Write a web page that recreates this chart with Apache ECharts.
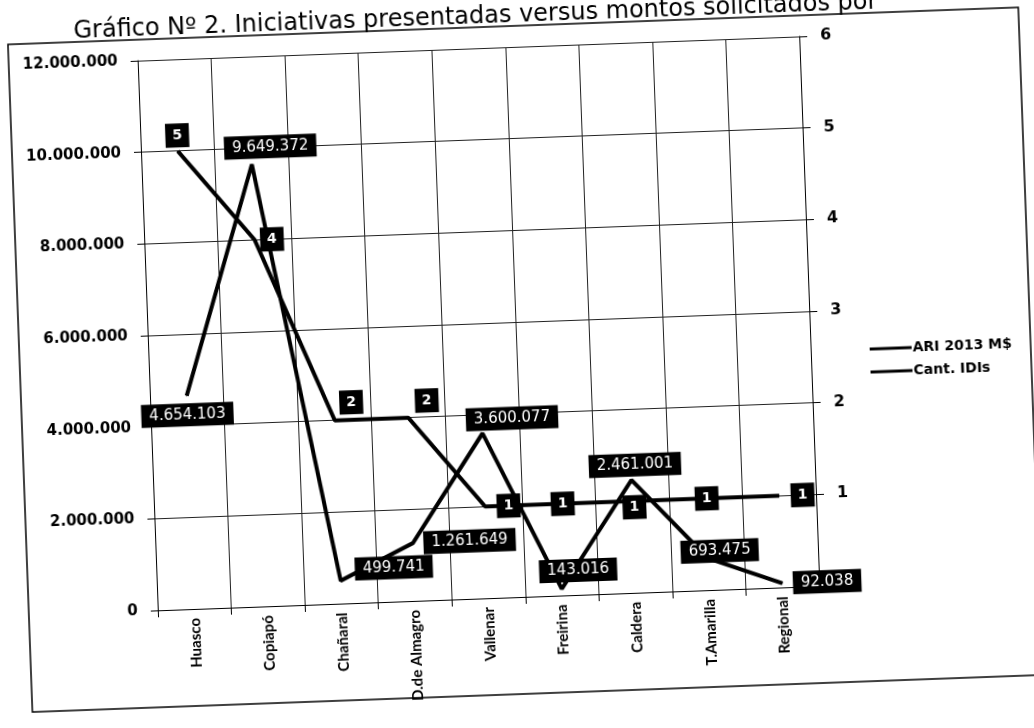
<!DOCTYPE html>
<html>
<head>
<meta charset="utf-8">
<script src="https://cdn.jsdelivr.net/npm/echarts@6/dist/echarts.min.js"></script>
<style>
html,body{margin:0;padding:0;background:#fff;overflow:hidden;}
#chart{width:1034px;height:728px;transform:rotate(-2.1deg);transform-origin:50% 50%;}
</style>
</head>
<body>
<div id="chart"></div>
<script>
// ---- data ----
const titleText = 'Gráfico Nº 2. Iniciativas presentadas versus montos solicitados por';
const categories = ['Huasco', 'Copiapó', 'Chañaral', 'D.de Almagro', 'Vallenar', 'Freirina', 'Caldera', 'T.Amarilla', 'Regional'];
const seriesNames = ['ARI 2013 M$', 'Cant. IDIs'];
const ariValues = [4654103, 9649372, 499741, 1261649, 3600077, 143016, 2461001, 693475, 92038];
const idiValues = [5, 4, 2, 2, 1, 1, 1, 1, 1];
const leftAxisMax = 12000000;
const leftAxisStep = 2000000;
const rightAxisMax = 6;
const rightAxisStep = 1;

// ---- label placement (style only) ----
const ariLabelPos = ['bottom', 'top', 'right', 'right', 'top', 'top', 'top', 'inside', 'right'];
const ariLabelDist = [7, 5, 10, 10, 2, 6, 3, 0, 10];
const ariLabelShift = [[0, 0], [19, 0], [4, -11], [0, 0], [30, 0], [17, 0], [4, 0], [12, -7], [0, 0]];
const idiLabelPos = ['top', 'right', 'top', 'top', 'right', 'inside', 'inside', 'inside', 'right'];
const idiLabelDist = [3, 5, 5, 4, 10, 0, 0, 0, 10];
const idiLabelShift = [[0, 0], [0, 0], [17, 0], [19, 0], [1, 0], [4, 0], [2, 6], [1, 0], [1, 0]];

function fmt(v) {
  return String(v).replace(/\B(?=(\d{3})+(?!\d))/g, '.');
}

function shiftLayout(shifts) {
  return function (params) {
    const s = shifts[params.dataIndex] || [0, 0];
    return {dx: s[0], dy: s[1], hideOverlap: false};
  };
}

const boxLabel = {
  show: true,
  color: '#fff',
  backgroundColor: '#000',
  fontFamily: 'DejaVu Sans',
  fontSize: 15,
  lineHeight: 17,
  padding: [3, 8, 3, 8]
};

const chart = echarts.init(document.getElementById('chart'), null, {renderer: 'canvas'});
chart.setOption({
  backgroundColor: '#ffffff',
  animation: false,
  graphic: [
    {
      type: 'rect',
      shape: {x: 20, y: 26, width: 1011, height: 668},
      style: {fill: 'none', stroke: '#000', lineWidth: 1.5},
      z: -1
    },
    {
      type: 'text',
      left: 86,
      top: 4,
      style: {text: titleText, fill: '#000', font: '24px "DejaVu Sans"'}
    }
  ],
  legend: {
    data: seriesNames,
    orient: 'vertical',
    left: 865,
    top: 350,
    itemWidth: 42,
    itemHeight: 3,
    itemGap: 9,
    icon: 'rect',
    textStyle: {color: '#000', fontFamily: 'DejaVu Sans', fontWeight: 'bold', fontSize: 14, padding: [0, 0, 0, -4]}
  },
  grid: {left: 149, right: 223, top: 47, bottom: 131, containLabel: false},
  xAxis: {
    type: 'category',
    data: categories,
    boundaryGap: true,
    axisLine: {show: true, lineStyle: {color: '#000', width: 1}},
    axisTick: {show: true, length: 7, lineStyle: {color: '#000'}},
    splitLine: {show: true, lineStyle: {color: '#222', width: 1}},
    axisLabel: {rotate: 90, color: '#000', fontFamily: 'Lato', fontWeight: 'bold', fontSize: 15, margin: 9}
  },
  yAxis: [
    {
      type: 'value',
      min: 0,
      max: leftAxisMax,
      interval: leftAxisStep,
      axisLine: {show: true, lineStyle: {color: '#000', width: 1}},
      axisTick: {show: true, length: 7, lineStyle: {color: '#000'}},
      splitLine: {show: true, lineStyle: {color: '#222', width: 1}},
      axisLabel: {formatter: fmt, color: '#000', fontFamily: 'DejaVu Sans', fontWeight: 'bold', fontSize: 15, margin: 20}
    },
    {
      type: 'value',
      position: 'right',
      min: 0,
      max: rightAxisMax,
      interval: rightAxisStep,
      axisLine: {show: true, lineStyle: {color: '#000', width: 1}},
      axisTick: {show: true, length: 8, lineStyle: {color: '#000'}},
      splitLine: {show: false},
      axisLabel: {color: '#000', fontFamily: 'DejaVu Sans', fontWeight: 'bold', fontSize: 16, margin: 21}
    }
  ],
  series: [
    {
      name: seriesNames[0],
      type: 'line',
      yAxisIndex: 0,
      symbol: 'circle',
      symbolSize: 1,
      showSymbol: true,
      lineStyle: {color: '#000', width: 4},
      itemStyle: {color: '#000'},
      z: 3,
      label: Object.assign({}, boxLabel, {formatter: p => fmt(p.value)}),
      labelLayout: shiftLayout(ariLabelShift),
      data: ariValues.map((v, i) => ({
        value: v,
        label: {position: ariLabelPos[i], distance: ariLabelDist[i]}
      }))
    },
    {
      name: seriesNames[1],
      type: 'line',
      yAxisIndex: 1,
      symbol: 'circle',
      symbolSize: 1,
      showSymbol: true,
      lineStyle: {color: '#000', width: 4},
      itemStyle: {color: '#000'},
      z: 4,
      label: Object.assign({}, boxLabel, {fontWeight: 'bold', fontSize: 14, lineHeight: 17, padding: [4, 7, 3, 7]}),
      labelLayout: shiftLayout(idiLabelShift),
      data: idiValues.map((v, i) => ({
        value: v,
        label: {position: idiLabelPos[i], distance: idiLabelDist[i]}
      }))
    }
  ]
});
</script>
</body>
</html>
